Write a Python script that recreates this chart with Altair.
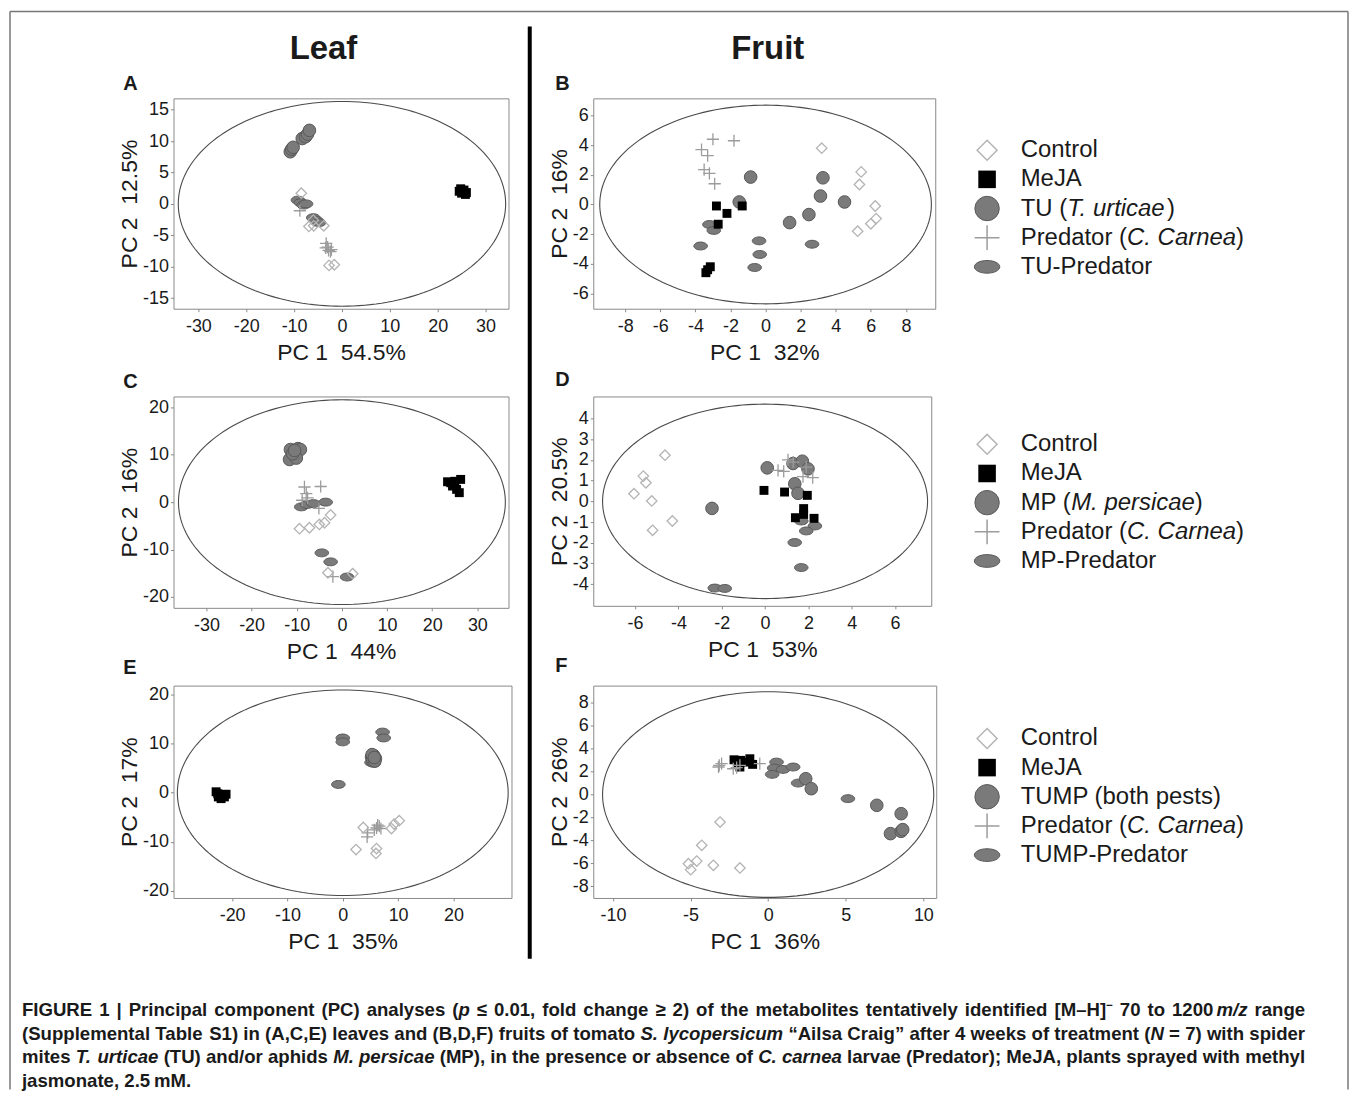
import altair as alt
import pandas as pd

FONT = "Liberation Sans"
INK = "#1a1a1a"

# ---------------- data: PC scores ----------------
# Panel A  (leaf, spider mites)
A_CONTROL = [(-8.5, 1.7), (-6.9, -3.6), (-5.9, -3.5), (-3.8, -3.5), (-2.7, -9.8), (-1.6, -9.7), (-6.0, -2.6)]
A_MEJA = [(24.5, 2.0), (25.0, 1.7), (25.5, 2.2), (26.0, 1.8), (24.8, 2.4), (25.8, 1.5), (25.2, 2.0)]
A_PEST = [(-10.8, 8.3), (-10.5, 8.7), (-10.2, 9.0), (-8.3, 10.4), (-7.6, 10.7), (-7.2, 11.1), (-6.8, 11.7)]
A_PRED = [(-8.8, -1.1), (-3.3, -6.3), (-3.0, -6.9), (-2.8, -7.4), (-2.4, -7.6), (-2.2, -7.3), (-3.4, -7.0)]
A_PESTPRED = [(-9.2, 0.6), (-8.6, 0.2), (-8.0, -0.2), (-7.5, 0.0), (-6.0, -2.2), (-5.4, -2.6), (-4.8, -3.0)]
# Panel B  (fruit, spider mites)
B_CONTROL = [(3.2, 3.8), (5.45, 2.2), (5.35, 1.35), (6.25, -0.1), (6.3, -0.95), (6.0, -1.3), (5.25, -1.8)]
B_MEJA = [(-2.8, -0.1), (-2.2, -0.6), (-2.7, -1.33), (-1.33, -0.1), (-3.15, -4.2), (-3.4, -4.6), (-3.3, -4.4)]
B_PEST = [(-0.85, 1.85), (-1.5, 0.17), (1.37, -1.22), (2.47, -0.68), (3.13, 0.57), (3.27, 1.8), (4.5, 0.17)]
B_PRED = [(-3.65, 3.7), (-3.0, 4.4), (-1.8, 4.3), (-3.3, 3.3), (-3.5, 2.35), (-3.2, 2.1), (-2.9, 1.4)]
B_PESTPRED = [(-3.2, -1.35), (-2.95, -1.75), (-3.7, -2.8), (-0.37, -2.45), (-0.33, -3.37), (-0.62, -4.25), (2.65, -2.68)]
# Panel C  (leaf, aphids)
C_CONTROL = [(-9.4, -5.6), (-7.2, -5.4), (-5.0, -4.7), (-3.85, -4.35), (-2.5, -2.7), (-3.1, -14.9), (2.4, -15.1)]
C_MEJA = [(23.4, 4.3), (25.0, 4.4), (26.3, 4.8), (24.5, 3.4), (25.4, 2.7), (26.0, 2.0), (24.1, 4.1)]
C_PEST = [(-11.4, 11.1), (-9.75, 11.3), (-9.2, 11.1), (-11.6, 9.0), (-10.1, 9.3), (-10.9, 10.2), (-10.5, 10.9)]
C_PRED = [(-8.3, 3.2), (-4.7, 3.3), (-7.9, 1.8), (-7.6, 0.9), (-8.8, 0.4), (-5.1, -1.3), (-2.0, -15.7)]
C_PESTPRED = [(-9.0, -1.0), (-7.7, -0.5), (-6.3, -0.3), (-3.6, 0.0), (-4.45, -10.7), (-2.5, -12.6), (1.15, -15.8)]
# Panel D  (fruit, aphids)
D_CONTROL = [(-4.62, 2.23), (-5.62, 1.22), (-5.5, 0.9), (-6.05, 0.37), (-5.23, 0.02), (-4.28, -0.95), (-5.19, -1.4)]
D_MEJA = [(-0.05, 0.53), (0.9, 0.45), (1.95, 0.29), (1.78, -0.35), (1.78, -0.63), (1.4, -0.79), (2.26, -0.82)]
D_PEST = [(0.1, 1.62), (1.29, 1.83), (1.72, 1.94), (1.98, 1.57), (1.37, 0.85), (1.52, 0.39), (-2.45, -0.34)]
D_PRED = [(1.06, 2.0), (0.6, 1.5), (0.86, 1.45), (1.75, 1.2), (2.2, 1.15), (1.9, 1.65), (1.3, 1.9)]
D_PESTPRED = [(1.67, -0.95), (2.3, -1.19), (1.9, -1.43), (1.37, -1.99), (1.67, -3.2), (-2.32, -4.19), (-1.86, -4.21)]
# Panel E  (leaf, both pests)
E_CONTROL = [(3.7, -7.1), (2.4, -11.6), (6.1, -11.4), (6.0, -12.4), (8.8, -7.3), (10.2, -5.7), (9.3, -6.4)]
E_MEJA = [(-22.6, -0.2), (-21.7, -0.5), (-21.1, -0.3), (-22.0, -1.2), (-22.5, -0.85), (-21.4, -0.85), (-22.9, 0.2)]
E_PEST = [(5.2, 7.3), (5.6, 7.6), (5.9, 7.0), (5.4, 6.8), (5.8, 6.5), (5.3, 7.8), (5.7, 7.2)]
E_PRED = [(4.4, -9.0), (6.1, -7.2), (6.6, -6.8), (6.9, -7.3), (5.7, -7.6), (6.3, -6.6), (4.5, -8.2)]
E_PESTPRED = [(0.0, 11.2), (0.0, 10.4), (7.2, 12.4), (7.4, 11.2), (-0.8, 1.7), (5.2, 6.2), (5.6, 6.0)]
# Panel F  (fruit, both pests)
F_CONTROL = [(-3.1, -2.4), (-4.28, -4.43), (-5.14, -6.03), (-4.99, -6.55), (-4.6, -5.8), (-3.53, -6.17), (-1.82, -6.4)]
F_MEJA = [(-2.2, 3.03), (-1.78, 2.98), (-1.82, 2.4), (-1.18, 3.12), (-1.0, 2.63), (-1.39, 2.83), (-1.93, 2.69)]
F_PEST = [(2.42, 1.38), (2.78, 0.51), (7.0, -0.94), (8.57, -1.67), (7.88, -3.41), (8.57, -3.21), (8.67, -3.06)]
F_PRED = [(-3.2, 2.4), (-3.0, 2.69), (-2.03, 2.34), (-0.54, 2.69), (-1.82, 2.54), (-2.25, 2.25), (-3.15, 2.54)]
F_PESTPRED = [(0.54, 2.83), (0.39, 2.31), (0.96, 2.19), (1.61, 2.4), (0.26, 1.76), (1.93, 1.0), (5.14, -0.36)]

# Hotelling ellipse semi-axes (PC1, PC2)
ELLIPSES = {"A": (34.2, 16.3), "B": (9.45, 6.7), "C": (36.2, 21.6),
            "D": (7.5, 4.7), "E": (29.9, 21.0), "F": (10.67, 8.97)}

X_TITLES = {"A": "54.5%", "B": "32%", "C": "44%", "D": "53%", "E": "35%", "F": "36%"}
Y_TITLES = {"A": "12.5%", "B": "16%", "C": "16%", "D": "20.5%", "E": "17%", "F": "26%"}

X_TICKS = {"A": [-30, -20, -10, 0, 10, 20, 30], "B": [-8, -6, -4, -2, 0, 2, 4, 6, 8],
           "C": [-30, -20, -10, 0, 10, 20, 30], "D": [-6, -4, -2, 0, 2, 4, 6],
           "E": [-20, -10, 0, 10, 20], "F": [-10, -5, 0, 5, 10]}
Y_TICKS = {"A": [-15, -10, -5, 0, 5, 10, 15], "B": [-6, -4, -2, 0, 2, 4, 6],
           "C": [-20, -10, 0, 10, 20], "D": [-4, -3, -2, -1, 0, 1, 2, 3, 4],
           "E": [-20, -10, 0, 10, 20], "F": [-8, -6, -4, -2, 0, 2, 4, 6, 8]}

LEGEND_1 = ["Control", "MeJA", [("TU (", "n"), ("T. urticae", "i"), (")", "n")],
            [("Predator (", "n"), ("C. Carnea", "i"), (")", "n")], "TU-Predator"]
LEGEND_2 = ["Control", "MeJA", [("MP (", "n"), ("M. persicae", "i"), (")", "n")],
            [("Predator (", "n"), ("C. Carnea", "i"), (")", "n")], "MP-Predator"]
LEGEND_3 = ["Control", "MeJA", "TUMP (both pests)",
            [("Predator (", "n"), ("C. Carnea", "i"), (")", "n")], "TUMP-Predator"]

CAPTION = [
    [("FIGURE 1 | Principal component (PC) analyses (", "n"), ("p", "i"),
     (" \u2264 0.01, fold change \u2265 2) of the metabolites tentatively identified [M\u2013H]", "n"),
     ("\u2212", "sup"), (" 70 to 1200\u2009", "n"), ("m/z", "i"), (" range", "n")],
    [("(Supplemental Table S1) in (A,C,E) leaves and (B,D,F) fruits of tomato ", "n"),
     ("S. lycopersicum", "i"), (" \u201cAilsa Craig\u201d after 4 weeks of treatment (", "n"),
     ("N", "i"), (" = 7) with spider", "n")],
    [("mites ", "n"), ("T. urticae", "i"), (" (TU) and/or aphids ", "n"), ("M. persicae", "i"),
     (" (MP), in the presence or absence of ", "n"), ("C. carnea", "i"),
     (" larvae (Predator); MeJA, plants sprayed with methyl", "n")],
    [("jasmonate, 2.5\u2009mM.", "n")],
]

# ---------------- styles ----------------
ELL_PATH = "M-1,0C-1,-0.32,-0.552,-0.58,0,-0.58C0.552,-0.58,1,-0.32,1,0C1,0.32,0.552,0.58,0,0.58C-0.552,0.58,-1,0.32,-1,0Z"
ELL_PATH_L = "M-1,0C-1,-0.28,-0.552,-0.5,0,-0.5C0.552,-0.5,1,-0.28,1,0C1,0.28,0.552,0.5,0,0.5C-0.552,0.5,-1,0.28,-1,0Z"
CROSS_PATH = "M-1,0L1,0M0,-1L0,1"
GREY = "#7a7a7a"
GREY_EDGE = "#585858"

STYLE = {
    "control": dict(shape="diamond", filled=False, color="#b4b4b4", strokeWidth=1.3, opacity=1),
    "meja": dict(shape="square", filled=True, color="#000000", opacity=1),
    "pest": dict(shape="circle", filled=True, fill=GREY, stroke=GREY_EDGE, strokeWidth=1, opacity=1),
    "predator": dict(shape=CROSS_PATH, filled=False, color="#9c9c9c", strokeWidth=1.3, opacity=1),
    "pestpred": dict(shape=ELL_PATH, filled=True, fill=GREY, stroke=GREY_EDGE, strokeWidth=1, opacity=1),
}
SIZE = {"control": 110, "meja": 80, "pest": 160, "predator": 150, "pestpred": 185}
LSIZE = {"control": 400, "meja": 310, "pest": 600, "predator": 620, "pestpred": 650}
ROLES = ["control", "meja", "pest", "predator", "pestpred"]
DRAW_ORDER = ["pestpred", "pest", "meja", "predator", "control"]

# ---------------- text metrics (Arial / Liberation Sans, per 1000 em) ----------------
_UP = "ABCDEFGHIJKLMNOPQRSTUVWXYZ"
_LO = "abcdefghijklmnopqrstuvwxyz"
BOLD_W = dict(zip(_UP, [722, 722, 722, 722, 667, 611, 778, 722, 278, 556, 722, 611, 833, 722, 778, 667, 778, 722, 667, 611, 722, 667, 944, 667, 667, 611]))
BOLD_W.update(zip(_LO, [556, 611, 556, 611, 556, 333, 611, 611, 278, 278, 556, 278, 889, 611, 611, 611, 611, 389, 556, 333, 611, 556, 778, 556, 556, 500]))
REG_W = dict(zip(_UP, [667, 667, 722, 722, 667, 611, 778, 722, 278, 500, 667, 556, 833, 722, 778, 667, 778, 722, 667, 611, 722, 667, 944, 667, 667, 611]))
REG_W.update(zip(_LO, [556, 556, 500, 556, 556, 278, 556, 556, 222, 222, 500, 222, 833, 556, 556, 556, 556, 333, 500, 278, 556, 500, 722, 500, 500, 500]))
for tbl in (BOLD_W, REG_W):
    tbl.update({" ": 278, "(": 333, ")": 333, "-": 333, ".": 278, ",": 278, "/": 278, "[": 333, "]": 333,
                "|": 280, ";": 333, ":": 333, "=": 584, "\u2013": 556, "\u2212": 584, "\u201c": 500,
                "\u201d": 500, "\u2264": 549, "\u2265": 549, "%": 889, "\u2009": 167})
    tbl.update({d: 556 for d in "0123456789"})


def text_w(s, tbl, fs):
    return sum(tbl.get(c, 556) for c in s) * fs / 1000.0


def text_run(segs, x0, y_enc, data, fs, tbl, weight, baseline):
    layers = []
    cur = 0.0
    for txt, sty in segs:
        lead = len(txt) - len(txt.lstrip(" "))
        body = txt.strip(" ")
        if body:
            kw = dict(text=body, align="left", baseline=baseline, font=FONT, fontSize=fs,
                      fontWeight=weight, color=INK)
            if sty == "i":
                kw["fontStyle"] = "italic"
            layers.append(alt.Chart(data).mark_text(**kw).encode(
                x=alt.value(x0 + cur + text_w(" " * lead, tbl, fs)), y=y_enc))
        cur += text_w(txt, tbl, fs)
    return layers


ONE = pd.DataFrame({"k": [0]})


def note(text, x, y, size, weight="bold"):
    return alt.Chart(ONE).mark_text(text=text, align="left", baseline="alphabetic", font=FONT,
                                    fontSize=size, fontWeight=weight, color=INK).encode(
        x=alt.value(x), y=alt.value(y))


def rule(x, y, x2=None, y2=None, color="#777777", width=1.5):
    enc = dict(x=alt.value(x), y=alt.value(y))
    if x2 is not None:
        enc["x2"] = alt.value(x2)
    if y2 is not None:
        enc["y2"] = alt.value(y2)
    return alt.Chart(ONE).mark_rule(color=color, strokeWidth=width).encode(**enc)


def panel(key, groups, xdom, ydom, w, h, extras):
    xs = alt.Scale(domain=xdom, nice=False, zero=False)
    ys = alt.Scale(domain=ydom, nice=False, zero=False)
    xa = alt.Axis(values=X_TICKS[key], title="PC 1\u00a0\u00a0" + X_TITLES[key], labelExpr="datum.value + ''")
    ya = alt.Axis(values=Y_TICKS[key], title="PC 2\u00a0\u00a0" + Y_TITLES[key], labelExpr="datum.value + ''")
    X = alt.X("x:Q", scale=xs, axis=xa)
    Y = alt.Y("y:Q", scale=ys, axis=ya)
    a, b = ELLIPSES[key]
    ell = alt.Chart(alt.sequence(0, 362, 2, as_="t")).transform_calculate(
        x=f"{a}*cos(datum.t*PI/180)", y=f"{b}*sin(datum.t*PI/180)"
    ).mark_line(color="#4a4a4a", strokeWidth=1.1).encode(x=X, y=Y, order=alt.Order("t:Q"))
    layers = [ell]
    for role in DRAW_ORDER:
        df = pd.DataFrame(groups[role], columns=["x", "y"])
        layers.append(alt.Chart(df).mark_point(size=SIZE[role], **STYLE[role]).encode(x=X, y=Y))
    layers += extras
    return alt.layer(*layers).properties(
        width=w, height=h, view=alt.ViewBackground(stroke="#8a8a8a", strokeWidth=1, fill="white"))


# ---------- justified caption (word positions laid out from font metrics) ----------
CAP_LEFT, CAP_RIGHT, CAP_TOP, CAP_LEAD = 20, 1307, 1016, 24


def caption_layers(ox, oy):
    def items(line, fs):
        out = []
        for txt, sty in line:
            size = fs * 0.62 if sty == "sup" else fs
            word = ""
            for ch in txt:
                if ch == " ":
                    if word:
                        out.append(("w", word, sty, text_w(word, BOLD_W, size)))
                        word = ""
                    out.append(("s", " ", sty, text_w(" ", BOLD_W, fs)))
                else:
                    word += ch
            if word:
                out.append(("w", word, sty, text_w(word, BOLD_W, size)))
        return out

    target = CAP_RIGHT - CAP_LEFT
    fs = min(target / sum(it[3] for it in items(line, 1.0)) for line in CAPTION[:3])
    layers = []
    for li, line in enumerate(CAPTION):
        its = items(line, fs)
        nat = sum(it[3] for it in its)
        nsp = sum(1 for it in its if it[0] == "s")
        extra = (target - nat) / nsp if (li < len(CAPTION) - 1 and nsp) else 0.0
        cur = 0.0
        rows = {"n": [], "i": [], "sup": []}
        for kind, txt, sty, wd in its:
            if kind == "s":
                cur += wd + extra
            else:
                rows[sty].append({"w": txt, "px": CAP_LEFT - ox + cur})
                cur += wd
        yb = CAP_TOP + CAP_LEAD * li - oy
        for sty, rr in rows.items():
            if not rr:
                continue
            kw = dict(align="left", baseline="alphabetic", font=FONT, fontWeight="bold", color=INK,
                      fontSize=fs * 0.62 if sty == "sup" else fs)
            if sty == "i":
                kw["fontStyle"] = "italic"
            if sty == "sup":
                kw["dy"] = -fs * 0.38
            layers.append(alt.Chart(pd.DataFrame(rr)).mark_text(**kw).encode(
                x=alt.X("px:Q", scale=None), y=alt.value(yb), text="w:N"))
    return layers


def legend(rows, rng, h, extra=()):
    keys = [f"r{i}" for i in range(5)]
    Y = alt.Y("k:N", scale=alt.Scale(type="point", domain=keys, range=rng, padding=0), axis=None)
    layers = []
    for key, role, lab in zip(keys, ROLES, rows):
        d = pd.DataFrame({"k": [key]})
        st = dict(STYLE[role])
        if role == "pestpred":
            st["shape"] = ELL_PATH_L
        if role in ("control", "predator"):
            st["strokeWidth"] = 1.5
        layers.append(alt.Chart(d).mark_point(size=LSIZE[role], **st).encode(x=alt.value(-31), y=Y))
        segs = [(lab, "n")] if isinstance(lab, str) else lab
        layers += text_run(segs, 2.7, Y, d, 24, REG_W, "normal", "middle")
    layers += list(extra)
    return alt.layer(*layers).properties(width=250, height=h,
                                         view=alt.ViewBackground(stroke="transparent"))


def grp(c, m, p, pr, pp):
    return {"control": c, "meja": m, "pest": p, "predator": pr, "pestpred": pp}


# panel origins (page px): left column x=172, right column x=593; rows y=96, 395, 685
pA = panel("A", grp(A_CONTROL, A_MEJA, A_PEST, A_PRED, A_PESTPRED), [-35.2, 34.8], [-16.7, 16.8], 336, 211, [
    note("Leaf", 116.5, -39, 33),
    note("A", -50.3, -8, 20),
    rule(-164, -87, y2=994), rule(-164, -87, x2=1178), rule(1178, -87, y2=994),
])
pB = panel("B", grp(B_CONTROL, B_MEJA, B_PEST, B_PRED, B_PESTPRED), [-9.82, 9.67], [-7.03, 7.16], 343, 211, [
    note("Fruit", 138.3, -39, 33),
    note("B", -38, -8, 20),
    rule(-63.7, -72, y2=863, color="#000000", width=4),
])
pC = panel("C", grp(C_CONTROL, C_MEJA, C_PEST, C_PRED, C_PESTPRED), [-37.3, 36.9], [-22.3, 22.3], 336, 212, [
    note("C", -50.3, -8.3, 20),
])
pD = panel("D", grp(D_CONTROL, D_MEJA, D_PEST, D_PRED, D_PESTPRED), [-7.93, 7.67], [-5.05, 5.07], 339, 210, [
    note("D", -38, -10, 20),
])
pE = panel("E", grp(E_CONTROL, E_MEJA, E_PEST, E_PRED, E_PESTPRED), [-30.6, 30.5], [-21.5, 21.9], 339, 213, [
    note("E", -50.3, -12, 20),
])
pF = panel("F", grp(F_CONTROL, F_MEJA, F_PEST, F_PRED, F_PESTPRED), [-11.27, 10.83], [-9.02, 9.5], 344, 213, [
    note("F", -38, -13.3, 20),
])

L1 = legend(LEGEND_1, [52, 169], 221)
L2 = legend(LEGEND_2, [48, 165], 212)
L3 = legend(LEGEND_3, [53, 170], 213, extra=caption_layers(1019, 685))

chart = alt.concat(
    pA, pB, L1, pC, pD, L2, pE, pF, L3,
    columns=3,
    spacing=alt.RowColnumber(row=78, column=82),
    bounds="flush",
    align="each",
).properties(padding=0, background="white").configure_view(stroke="transparent").configure_axis(
    grid=False, domain=False, ticks=True, tickColor="#8a8a8a", tickSize=3,
    labelFont=FONT, labelFontSize=18, labelColor=INK, labelOverlap=False,
    titleFont=FONT, titleFontSize=23, titleFontWeight="normal", titleColor=INK,
).configure_axisX(labelPadding=6, titlePadding=6).configure_axisY(labelPadding=2, titlePadding=1)

chart.save("out.html", embed_options={"renderer": "svg", "actions": False})
